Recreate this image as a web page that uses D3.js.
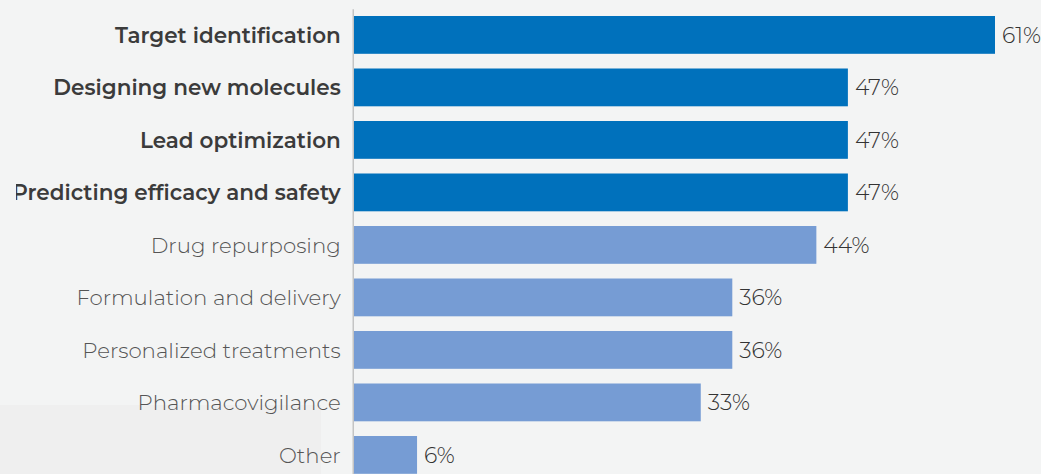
<!DOCTYPE html>
<html>
<head>
<meta charset="utf-8">
<script src="https://cdn.jsdelivr.net/npm/d3@7"></script>
<style>
  html, body { margin: 0; padding: 0; background: #f3f4f4; }
  svg { display: block; }
</style>
</head>
<body>
<svg id="chart" width="1041" height="474"></svg>
<script>
// Share of respondents citing each use of AI in drug development
const categories = [
  "Target identification",
  "Designing new molecules",
  "Lead optimization",
  "Predicting efficacy and safety",
  "Drug repurposing",
  "Formulation and delivery",
  "Personalized treatments",
  "Pharmacovigilance",
  "Other"
];
const values = [61, 47, 47, 47, 44, 36, 36, 33, 6];
// The leading uses are emphasised with a darker bar and bold label
const emphasised = [true, true, true, true, false, false, false, false, false];

const W = 1041, H = 474;
const FONT = "Montserrat, 'DejaVu Sans', sans-serif";
const DARK = "#0071bc", LIGHT = "#769cd4";

const svg = d3.select("#chart");

svg.append("rect").attr("width", W).attr("height", H).attr("fill", "#f3f4f4");
svg.append("rect").attr("x", 0).attr("y", 405).attr("width", 321).attr("height", H - 405)
  .attr("fill", "#efefef");

const x = d3.scaleLinear().domain([0, 61]).range([354, 995]);
const y = d3.scaleBand().domain(categories).range([8.65, 481.15])
  .paddingInner(0.28).paddingOuter(0.14);

// Label area is clipped at the left
svg.append("clipPath").attr("id", "labelClip")
  .append("rect").attr("x", 16).attr("y", 0).attr("width", W).attr("height", H);

const axisWrap = svg.append("g").attr("clip-path", "url(#labelClip)");
const axis = axisWrap.append("g")
  .attr("transform", "translate(352.75,0)")
  .call(d3.axisLeft(y).tickSize(0).tickSizeOuter(0).tickPadding(12));

axis.select(".domain").attr("stroke", "#c4c4c4").attr("stroke-width", 1.5);
axis.selectAll(".tick text")
  .attr("font-family", FONT)
  .attr("font-size", (d, i) => emphasised[i] ? 21.5 : 21.3)
  .attr("dy", "0.36em")
  .attr("font-weight", (d, i) => emphasised[i] ? 600 : 300)
  .attr("fill", (d, i) => emphasised[i] ? "#3b3b3b" : "#555555");

const rows = categories.map((c, i) => ({ c, v: values[i], e: emphasised[i] }));

svg.append("g").selectAll("rect").data(rows).join("rect")
  .attr("x", x(0))
  .attr("y", d => y(d.c))
  .attr("width", d => x(d.v) - x(0))
  .attr("height", y.bandwidth())
  .attr("fill", d => d.e ? DARK : LIGHT);

svg.append("g").selectAll("text").data(rows).join("text")
  .attr("x", d => x(d.v) + 7)
  .attr("y", d => y(d.c) + y.bandwidth() / 2)
  .attr("dy", "0.36em")
  .attr("font-family", FONT)
  .attr("font-size", 22)
  .attr("font-weight", 300)
  .attr("fill", "#333333")
  .text(d => d.v + "%");
</script>
</body>
</html>
